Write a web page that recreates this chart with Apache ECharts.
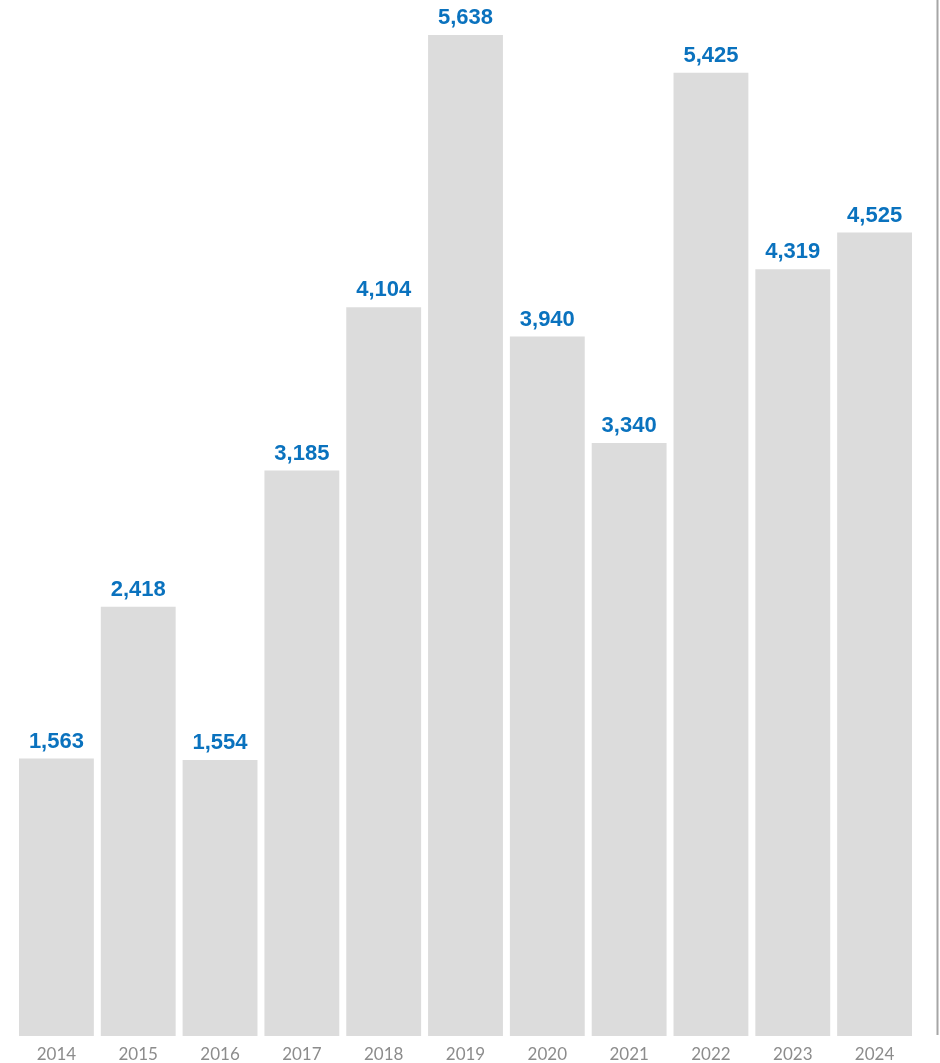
<!DOCTYPE html>
<html><head><meta charset="utf-8">
<script src="https://cdn.jsdelivr.net/npm/echarts@6/dist/echarts.min.js"></script>
<style>html,body{margin:0;padding:0;background:#fff}#c{width:940px;height:1063px}</style>
</head><body><div id="c"></div>
<script>
const categories = ['2014','2015','2016','2017','2018','2019','2020','2021','2022','2023','2024'];
const values = [1563,2418,1554,3185,4104,5638,3940,3340,5425,4319,4525];
const chart = echarts.init(document.getElementById('c'));
chart.setOption({
  animation:false,
  grid:{left:15.5,right:24.5,top:35,bottom:26},
  xAxis:{type:'category',data:categories,
    axisLine:{show:false},axisTick:{show:false},
    axisLabel:{color:'#8c8c8c',fontSize:17,fontFamily:'Lato',margin:10}},
  yAxis:{type:'value',min:0,max:5638,show:false,splitLine:{show:false}},
  series:[{type:'bar',data:values,barCategoryGap:'8.5%',
    itemStyle:{color:'#dcdcdc'},
    label:{show:true,position:'top',distance:6,color:'#0a72be',fontWeight:'bold',fontSize:22,fontFamily:'Liberation Sans',
      formatter:p=>p.value.toLocaleString('en-US')}}],
  graphic:[{type:'line',shape:{x1:937.5,y1:0,x2:937.5,y2:1035},style:{stroke:'#a6a6a6',lineWidth:2}}]
});
</script></body></html>
